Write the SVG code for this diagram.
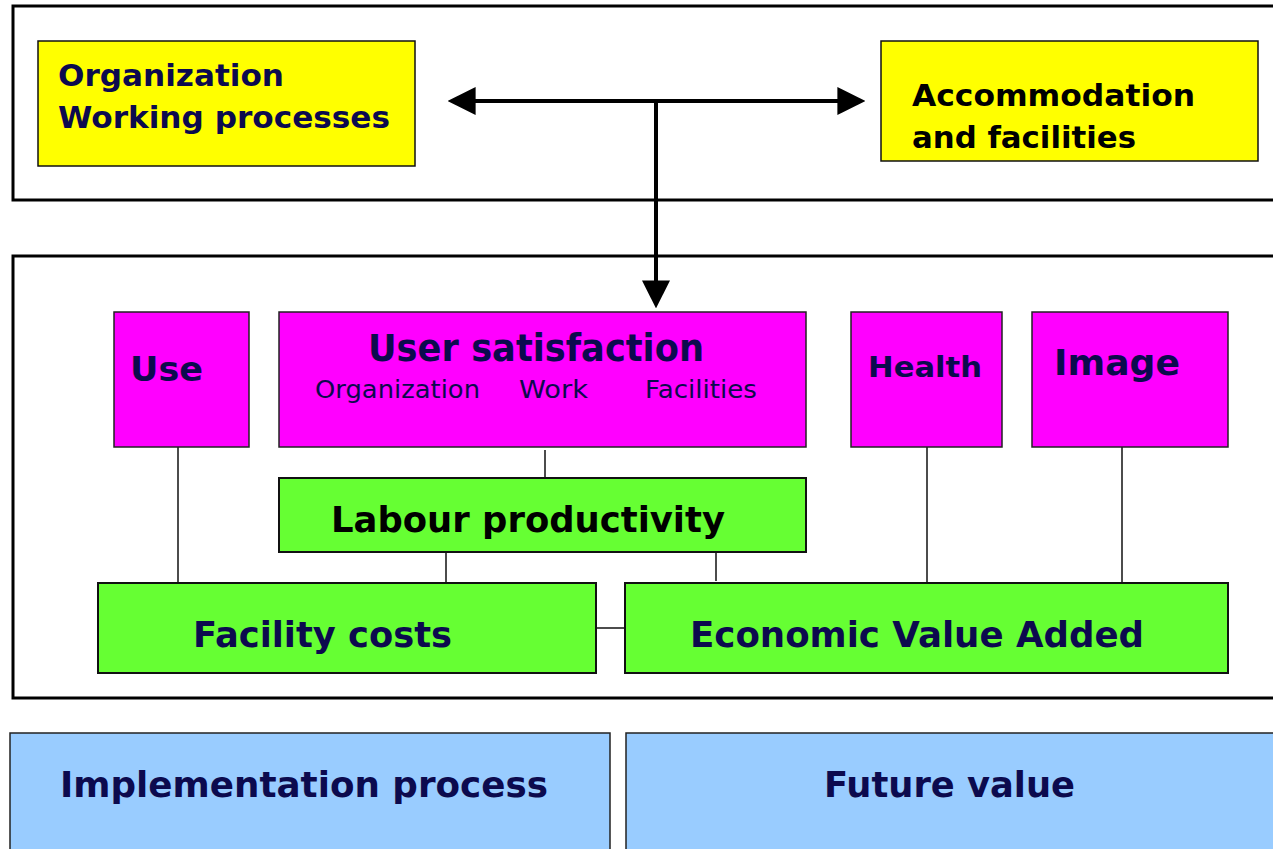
<svg xmlns="http://www.w3.org/2000/svg" width="1273" height="849" viewBox="0 0 1273 849">
<defs>
<style>
.frame{fill:#fff;stroke:#000;stroke-width:3}
.yel{fill:#ffff00;stroke:#111;stroke-width:1.5}
.mag{fill:#ff00ff;stroke:#222;stroke-width:1.5}
.grn{fill:#66ff33;stroke:#111;stroke-width:2}
.blu{fill:#99ccff;stroke:#222;stroke-width:1.5}
.t{font-family:"DejaVu Sans",Verdana,sans-serif;font-weight:bold;fill:#0c0a4e}
.k{fill:#000}
.s{font-family:"DejaVu Sans",Verdana,sans-serif;font-weight:normal;fill:#0c0a4e}
.ln{stroke:#111;stroke-width:1.5;fill:none}
.arr{stroke:#000;stroke-width:4;fill:none}
</style>
<marker id="ah" viewBox="0 0 10 10" refX="7" refY="5" markerWidth="7" markerHeight="7" markerUnits="strokeWidth" orient="auto">
<path d="M0,0 L10,5 L0,10 Z" fill="#000"/>
</marker>
</defs>
<rect width="1273" height="849" fill="#fff"/>
<rect class="frame" x="13" y="6" width="1270" height="194"/>
<rect class="frame" x="13" y="256" width="1270" height="442"/>

<g id="org">
<rect class="yel" x="38" y="41" width="377" height="125"/>
<text class="t" x="58" y="86" font-size="30" textLength="226" lengthAdjust="spacingAndGlyphs">Organization</text>
<text class="t" x="58" y="128" font-size="30" textLength="332" lengthAdjust="spacingAndGlyphs">Working processes</text>
</g>
<g id="acc">
<rect class="yel" x="881" y="41" width="377" height="120"/>
<text class="t k" x="912" y="106" font-size="30" textLength="283" lengthAdjust="spacingAndGlyphs">Accommodation</text>
<text class="t k" x="912" y="148" font-size="30" textLength="224" lengthAdjust="spacingAndGlyphs">and facilities</text>
</g>

<g id="connectors">
<line class="arr" x1="656" y1="101" x2="456" y2="101" marker-end="url(#ah)"/>
<line class="arr" x1="656" y1="101" x2="857" y2="101" marker-end="url(#ah)"/>
<line class="arr" x1="656" y1="99" x2="656" y2="300" marker-end="url(#ah)"/>
<line class="ln" x1="178" y1="447" x2="178" y2="583"/>
<line class="ln" x1="545" y1="450" x2="545" y2="478"/>
<line class="ln" x1="446" y1="552" x2="446" y2="583"/>
<line class="ln" x1="716" y1="552" x2="716" y2="581"/>
<line class="ln" x1="927" y1="447" x2="927" y2="583"/>
<line class="ln" x1="1122" y1="447" x2="1122" y2="583"/>
<line class="ln" x1="596" y1="628" x2="625" y2="628"/>
</g>

<g id="use">
<rect class="mag" x="114" y="312" width="135" height="135"/>
<text class="t" x="130" y="381" font-size="33" textLength="73" lengthAdjust="spacingAndGlyphs">Use</text>
</g>
<g id="usersat">
<rect class="mag" x="279" y="312" width="527" height="135"/>
<text class="t" x="368" y="361" font-size="37" textLength="336" lengthAdjust="spacingAndGlyphs">User satisfaction</text>
<text class="s" x="315" y="398" font-size="25" textLength="165" lengthAdjust="spacingAndGlyphs">Organization</text>
<text class="s" x="519" y="398" font-size="25" textLength="69" lengthAdjust="spacingAndGlyphs">Work</text>
<text class="s" x="645" y="398" font-size="25" textLength="112" lengthAdjust="spacingAndGlyphs">Facilities</text>
</g>
<g id="health">
<rect class="mag" x="851" y="312" width="151" height="135"/>
<text class="t" x="868" y="377" font-size="29" textLength="114" lengthAdjust="spacingAndGlyphs">Health</text>
</g>
<g id="image">
<rect class="mag" x="1032" y="312" width="196" height="135"/>
<text class="t" x="1054" y="375" font-size="35" textLength="126" lengthAdjust="spacingAndGlyphs">Image</text>
</g>
<g id="labour">
<rect class="grn" x="279" y="478" width="527" height="74"/>
<text class="t k" x="331" y="532" font-size="36" textLength="394" lengthAdjust="spacingAndGlyphs">Labour productivity</text>
</g>
<g id="faccost">
<rect class="grn" x="98" y="583" width="498" height="90"/>
<text class="t" x="193" y="647" font-size="36" textLength="259" lengthAdjust="spacingAndGlyphs">Facility costs</text>
</g>
<g id="eva">
<rect class="grn" x="625" y="583" width="603" height="90"/>
<text class="t" x="690" y="647" font-size="36" textLength="454" lengthAdjust="spacingAndGlyphs">Economic Value Added</text>
</g>
<g id="impl">
<rect class="blu" x="10" y="733" width="600" height="130"/>
<text class="t" x="60" y="797" font-size="36" textLength="488" lengthAdjust="spacingAndGlyphs">Implementation process</text>
</g>
<g id="future">
<rect class="blu" x="626" y="733" width="660" height="130"/>
<text class="t" x="824" y="797" font-size="36" textLength="251" lengthAdjust="spacingAndGlyphs">Future value</text>
</g>
</svg>
